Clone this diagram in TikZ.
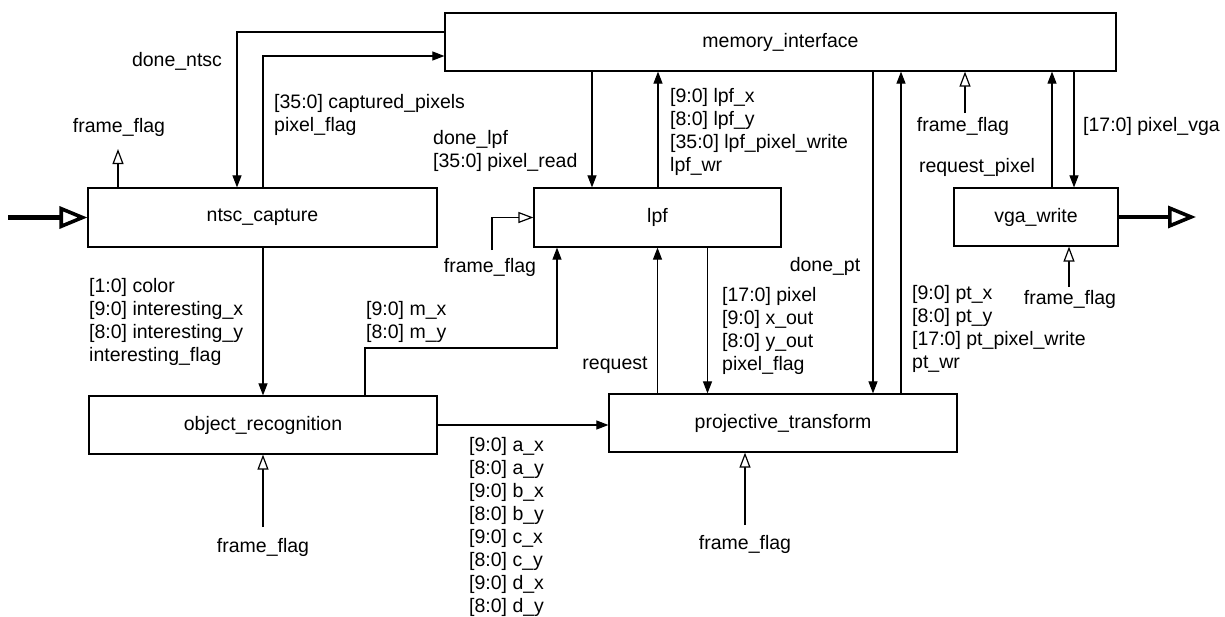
\documentclass[tikz,border=0pt]{standalone}
\usepackage{fontspec}
\setmainfont{Liberation Sans}
\usetikzlibrary{arrows.meta}
\begin{document}
\begin{tikzpicture}[x=1pt,y=-1pt,
  every node/.style={font=\fontsize{19.5}{23}\selectfont},
  blk/.style={draw,line width=1.2pt,rectangle,inner sep=0pt},
  lbl/.style={inner sep=0pt,align=left},
  arr/.style={line width=1.1pt,-{Triangle[length=12pt,width=9pt]}},
  oarr/.style={line width=1.1pt,-{Triangle[open,length=15pt,width=11pt,line width=1.2pt,fill=white]}},
  big/.style={line width=4.5pt,-{Triangle[open,length=28pt,width=22pt,line width=3.6pt,fill=white]}}]
\path[fill=white] (0,0) rectangle (1225,616);
\useasboundingbox (0,0) rectangle (1225,616);
% blocks
\node[blk,minimum width=671pt,minimum height=58pt] (mem) at (780.5,42) {memory\_interface};
\node[blk,minimum width=349pt,minimum height=59pt] (ntsc) at (262.5,217.5) {ntsc\_capture};
\node[blk,minimum width=247pt,minimum height=59pt] (lpf) at (657.5,217.5) {lpf};
\node[blk,minimum width=164pt,minimum height=58pt] (vga) at (1036,217) {vga\_write};
\node[blk,minimum width=348pt,minimum height=58pt] (obj) at (263,425) {object\_recognition};
\node[blk,minimum width=348pt,minimum height=58pt] (proj) at (783,423) {projective\_transform};
% labels
\node[lbl] (ldonentsc) at (177,61) {done\_ntsc};
\node[lbl,anchor=west] (lcap) at (274,115) {[35:0] captured\_pixels\\pixel\_flag};
\node[lbl] (lffntsc) at (119,127) {frame\_flag};
\node[lbl,anchor=west] (ldonelpf) at (433,151) {done\_lpf\\{[35:0]} pixel\_read};
\node[lbl,anchor=west] (llpfx) at (670,131.5) {[9:0] lpf\_x\\{[8:0]} lpf\_y\\{[35:0]} lpf\_pixel\_write\\lpf\_wr};
\node[lbl] (lffmem) at (963,126) {frame\_flag};
\node[lbl,anchor=west] (lpixvga) at (1083,126) {[17:0] pixel\_vga};
\node[lbl] (lreqpix) at (977,167) {request\_pixel};
\node[lbl] (lfflpf) at (490,267) {frame\_flag};
\node[lbl] (lffvga) at (1070,299) {frame\_flag};
\node[lbl] (ldonept) at (825,266) {done\_pt};
\node[lbl,anchor=west] (lcolor) at (89,321.5) {[1:0] color\\{[9:0]} interesting\_x\\{[8:0]} interesting\_y\\interesting\_flag};
\node[lbl,anchor=west] (lmx) at (366,321.5) {[9:0] m\_x\\{[8:0]} m\_y};
\node[lbl,anchor=west] (lpixel) at (722,330.5) {[17:0] pixel\\{[9:0]} x\_out\\{[8:0]} y\_out\\pixel\_flag};
\node[lbl,anchor=west] (lpt) at (912,328.5) {[9:0] pt\_x\\{[8:0]} pt\_y\\{[17:0]} pt\_pixel\_write\\pt\_wr};
\node[lbl] (lreq) at (615,365) {request};
\node[lbl,anchor=west] (lax) at (469,527) {[9:0] a\_x\\{[8:0]} a\_y\\{[9:0]} b\_x\\{[8:0]} b\_y\\{[9:0]} c\_x\\{[8:0]} c\_y\\{[9:0]} d\_x\\{[8:0]} d\_y};
\node[lbl] (lffobj) at (263,547) {frame\_flag};
\node[lbl] (lffproj) at (745,544) {frame\_flag};
% free ends
\coordinate (inL) at (8,217.5);
\coordinate (outR) at (1196,217);
\coordinate (cffntsc) at (118,149);
\coordinate (cfflpf) at (492,250);
\coordinate (cffmem) at (965,113);
\coordinate (cffvga) at (1069,287);
\coordinate (cffobj) at (263,527);
\coordinate (cffproj) at (745,525);
\coordinate (bdn) at (237,32);
\coordinate (bcap) at (263,56);
\coordinate (bmx) at (365,348);
% connectors
\draw[big] (inL) -- (ntsc.west);
\draw[big] (vga.east) -- (outR);
\draw[arr] (mem.west |- bdn) -- (bdn) -- (ntsc.north -| bdn);
\draw[arr] (ntsc.north -| bcap) -- (bcap) -- (mem.west |- bcap);
\draw[oarr] (ntsc.north -| cffntsc) -- (cffntsc);
\draw[arr] (mem.south -| 592,0) -- (lpf.north -| 592,0);
\draw[arr] (lpf.north -| 658,0) -- (mem.south -| 658,0);
\draw[oarr] (cfflpf) |- (lpf.west);
\draw[arr] (ntsc.south -| 263,0) -- (obj.north -| 263,0);
\draw[arr] (obj.north -| bmx) -- (bmx) -| (lpf.south -| 557,0);
\draw[arr] (obj.east) -- (obj.east -| proj.west);
\draw[arr] (proj.north -| 657.5,0) -- (lpf.south -| 657.5,0);
\draw[arr] (lpf.south -| 707.5,0) -- (proj.north -| 707.5,0);
\draw[arr] (mem.south -| 873,0) -- (proj.north -| 873,0);
\draw[arr] (proj.north -| 901,0) -- (mem.south -| 901,0);
\draw[oarr] (cffmem) -- (mem.south -| cffmem);
\draw[arr] (vga.north -| 1052,0) -- (mem.south -| 1052,0);
\draw[arr] (mem.south -| 1074,0) -- (vga.north -| 1074,0);
\draw[oarr] (cffvga) -- (vga.south -| cffvga);
\draw[oarr] (cffobj) -- (obj.south -| cffobj);
\draw[oarr] (cffproj) -- (proj.south -| cffproj);
\end{tikzpicture}
\end{document}
